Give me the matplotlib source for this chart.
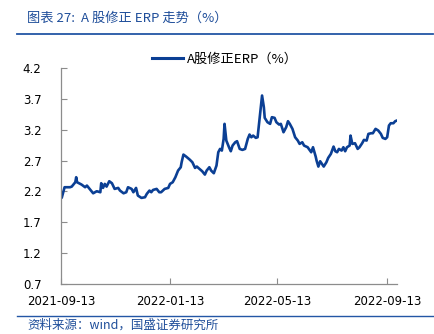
import matplotlib
matplotlib.use("Agg")
import matplotlib.pyplot as plt
from matplotlib.lines import Line2D

plt.rcParams['font.family'] = ['Noto Sans CJK SC', 'DejaVu Sans']

# days since 2021-09-13 and the corrected ERP (%)
day_offset = [1, 3, 4, 10, 12, 16, 17, 18, 23, 27, 29, 32, 36, 40, 44, 45, 47, 49, 51, 54,
              57, 60, 64, 66, 70, 73, 75, 79, 81, 84, 86, 90, 94, 96, 99, 101, 103, 107, 110, 112,
              116, 120, 122, 125, 128, 131, 134, 135, 137, 140, 144, 147, 150, 152, 155, 158, 161, 163, 166, 168,
              171, 174, 176, 178, 180, 182, 183, 185, 188, 190, 192, 195, 197, 200, 203, 206, 209, 211, 213, 215,
              218, 220, 222, 224, 225, 227, 228, 231, 234, 236, 239, 241, 244, 246, 249, 252, 254, 256, 259, 262,
              265, 267, 270, 272, 276, 280, 282, 285, 286, 288, 290, 292, 294, 297, 299, 302, 305, 307, 309, 311,
              314, 316, 318, 320, 323, 324, 326, 329, 332, 334, 337, 339, 342, 344, 347, 349, 352, 355, 358, 360,
              363, 365, 367, 369, 372, 374, 376]
erp = [2.106, 2.214, 2.268, 2.268, 2.278, 2.349, 2.430, 2.349, 2.311, 2.268, 2.295, 2.241, 2.170, 2.203, 2.187, 2.333, 2.257, 2.322, 2.278, 2.365,
       2.333, 2.241, 2.257, 2.214, 2.170, 2.187, 2.268, 2.241, 2.187, 2.257, 2.133, 2.095, 2.106, 2.160, 2.214, 2.187, 2.224, 2.241, 2.187, 2.187,
       2.241, 2.257, 2.322, 2.349, 2.430, 2.538, 2.592, 2.673, 2.797, 2.765, 2.716, 2.673, 2.581, 2.603, 2.565, 2.527, 2.473, 2.538, 2.592, 2.538,
       2.495, 2.619, 2.835, 2.889, 2.862, 3.051, 3.295, 3.024, 2.916, 2.851, 2.943, 2.997, 3.014, 2.889, 2.873, 2.889, 3.051, 3.122, 3.078, 3.105,
       3.068, 3.078, 3.349, 3.619, 3.754, 3.565, 3.392, 3.322, 3.295, 3.403, 3.392, 3.322, 3.284, 3.295, 3.159, 3.241, 3.338, 3.295, 3.214, 3.078,
       3.024, 2.970, 2.997, 2.943, 2.916, 2.835, 2.916, 2.765, 2.700, 2.603, 2.689, 2.646, 2.603, 2.673, 2.743, 2.808, 2.927, 2.851, 2.835, 2.889,
       2.862, 2.916, 2.851, 2.916, 2.943, 3.105, 2.970, 2.981, 2.889, 2.916, 2.981, 3.035, 3.024, 3.132, 3.143, 3.143, 3.214, 3.187, 3.132, 3.068,
       3.051, 3.078, 3.268, 3.305, 3.305, 3.338, 3.349]

y_ticks = [0.7, 1.2, 1.7, 2.2, 2.7, 3.2, 3.7, 4.2]
x_tick_days = [0, 122, 242, 365]
x_tick_labels = ['2021-09-13', '2022-01-13', '2022-05-13', '2022-09-13']

line_color = '#0B3F94'
title_color = '#1F4E9A'
axis_color = '#8C8C8C'

fig = plt.figure(figsize=(4.35, 3.34), dpi=100)
ax = fig.add_axes([61 / 435, 50 / 334, 336 / 435, 216 / 334])

ax.plot(day_offset, erp, color=line_color, linewidth=1.9, solid_joinstyle='round')

ax.set_xlim(0, 376)
ax.set_ylim(0.7, 4.2)
ax.set_yticks(y_ticks)
ax.set_yticklabels([f'{v:.1f}' for v in y_ticks], family='DejaVu Sans', fontsize=8.5)
ax.set_xticks(x_tick_days)
ax.set_xticklabels(x_tick_labels, family='DejaVu Sans', fontsize=8.5)
ax.tick_params(direction='in', length=4, color=axis_color, width=0.8)
ax.tick_params(axis='y', pad=14)
ax.tick_params(axis='x', pad=8)
for side in ['top', 'right']:
    ax.spines[side].set_visible(False)
for side in ['left', 'bottom']:
    ax.spines[side].set_color(axis_color)
    ax.spines[side].set_linewidth(0.9)

# legend drawn above the plot area
leg = ax.legend([Line2D([], [], color=line_color, linewidth=2.2)], ['A股修正ERP（%）'],
                loc='center', bbox_to_anchor=(225 / 435, 1 - 59 / 334),
                bbox_transform=fig.transFigure, frameon=False, fontsize=9.5,
                handlelength=2.4, handletextpad=0.3)

# header and footer
fig.text(27 / 435, 1 - 18 / 334, '图表 27:  A 股修正 ERP 走势（%）', color=title_color,
         fontsize=9.5, va='center', ha='left')
fig.add_artist(Line2D([17 / 435, 433 / 435], [1 - 34 / 334] * 2, color='#2356A5', linewidth=1.3))
fig.add_artist(Line2D([17 / 435, 433 / 435], [1 - 316 / 334] * 2, color='#2356A5', linewidth=1.0))
fig.text(27 / 435, 1 - 325 / 334, '资料来源：wind，国盛证券研究所', color=title_color,
         fontsize=9, va='center', ha='left')

fig.savefig('out.png', dpi=100)
